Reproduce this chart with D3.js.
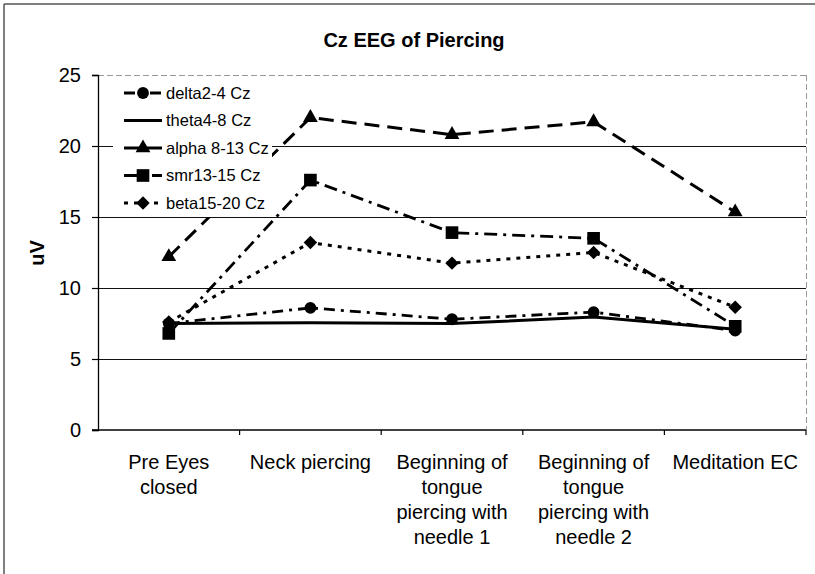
<!DOCTYPE html>
<html><head><meta charset="utf-8">
<script src="https://cdn.jsdelivr.net/npm/d3@7"></script>
<style>body{margin:0;background:#fff}svg{display:block}text{font-family:Arial,"Liberation Sans",sans-serif;fill:#000}</style>
</head><body>
<script>
const categories = [["Pre Eyes","closed"],["Neck piercing"],["Beginning of","tongue","piercing with","needle 1"],["Beginning of","tongue","piercing with","needle 2"],["Meditation EC"]];
const seriesNames = ["delta2-4 Cz","theta4-8 Cz","alpha 8-13 Cz","smr13-15 Cz","beta15-20 Cz"];
const delta = [7.5, 8.6, 7.8, 8.3, 7.0];
const theta = [7.5, 7.55, 7.5, 7.95, 7.1];
const alpha = [12.2, 22.0, 20.8, 21.7, 15.35];
const smr = [6.8, 17.6, 13.9, 13.5, 7.3];
const beta = [7.6, 13.2, 11.75, 12.5, 8.65];
const yTicks = [0,5,10,15,20,25];
const title = "Cz EEG of Piercing";
const yLabel = "uV";

const W=815,H=574;
const svg=d3.select("body").append("svg").attr("width",W).attr("height",H);
const L=98,R=806,T=75,B=430;
const keys=categories.map((c,i)=>i);
const x=d3.scaleBand().domain(keys).range([L,R]).padding(0);
const y=d3.scaleLinear().domain([0,25]).range([B,T]);

// outer border (left/top visible)
svg.append("line").attr("x1",4).attr("x2",4).attr("y1",4).attr("y2",H).attr("stroke","#555").attr("stroke-width",1.5);
svg.append("line").attr("x1",4).attr("x2",W).attr("y1",4).attr("y2",4).attr("stroke","#555").attr("stroke-width",1.5);

// plot border top/right
svg.append("line").attr("x1",L).attr("x2",R).attr("y1",y(25)+0.5).attr("y2",y(25)+0.5).attr("stroke","#999").attr("stroke-dasharray","6,3");
svg.append("line").attr("x1",R+0.5).attr("x2",R+0.5).attr("y1",T).attr("y2",B).attr("stroke","#999").attr("stroke-dasharray","6,3");

// gridlines
svg.append("g").selectAll("line").data(yTicks.filter(t=>t>0&&t<25)).join("line")
 .attr("x1",L).attr("x2",R).attr("y1",d=>Math.round(y(d))+0.5).attr("y2",d=>Math.round(y(d))+0.5).attr("stroke","#111").attr("stroke-width",1);

const series=[
 {name:seriesNames[0],vals:delta,dash:"11,6,3,6",sym:d3.symbolCircle,size:110,w:2.8},
 {name:seriesNames[1],vals:theta,dash:null,sym:null,size:0,w:3},
 {name:seriesNames[2],vals:alpha,dash:"15,8",sym:d3.symbolTriangle,size:95,w:3},
 {name:seriesNames[3],vals:smr,dash:"13,6,3,6",sym:d3.symbolSquare,size:160,w:2.8},
 {name:seriesNames[4],vals:beta,dash:"4,6",sym:d3.symbolSquare,size:90,w:3,rot:45},
];
const cx=i=>x(i)+x.bandwidth()/2;
const line=d3.line().x((d,i)=>cx(i)).y(d=>y(d));
series.forEach(s=>{
 svg.append("path").attr("d",line(s.vals)).attr("fill","none").attr("stroke","#000")
  .attr("stroke-width",s.w).attr("stroke-dasharray",s.dash);
 if(s.sym){
  svg.append("g").selectAll("path").data(s.vals).join("path")
   .attr("d",d3.symbol(s.sym,s.size))
   .attr("transform",(d,i)=>`translate(${cx(i)},${y(d)}) rotate(${s.rot||0})`).attr("fill","#000");
 }
});

// legend
const lg=svg.append("g");
lg.append("rect").attr("x",113).attr("y",79).attr("width",159).attr("height",138).attr("fill","#fff");
series.forEach((s,i)=>{
 const ly=93+i*27.5;
 lg.append("line").attr("x1",124).attr("x2",162).attr("y1",ly).attr("y2",ly).attr("stroke","#000")
  .attr("stroke-width",s.w).attr("stroke-dasharray",s.dash);
 if(s.sym) lg.append("path").attr("d",d3.symbol(s.sym,s.size)).attr("transform",`translate(143,${ly}) rotate(${s.rot||0})`);
 lg.append("text").attr("x",166).attr("y",ly+5.5).style("font-size","16.5px").text(s.name);
});

// y axis
const ya=svg.append("g").attr("transform",`translate(${L},0)`)
 .call(d3.axisLeft(y).tickValues(yTicks).tickSize(6).tickPadding(11).tickFormat(d3.format("d")));
ya.select(".domain").attr("stroke","#000").attr("stroke-width",1.3);
ya.selectAll(".tick line").attr("stroke","#000").attr("stroke-width",1.2);
ya.selectAll("text").style("font-size","20px").attr("font-family","Arial, Liberation Sans, sans-serif");

// x axis
svg.append("line").attr("x1",L-6).attr("x2",R).attr("y1",B).attr("y2",B).attr("stroke","#000").attr("stroke-width",1.5);
const bounds=keys.map(k=>x(k)).concat([x(keys[keys.length-1])+x.bandwidth()]);
svg.append("g").selectAll("line").data(bounds.slice(1)).join("line")
 .attr("x1",d=>d).attr("x2",d=>d).attr("y1",B).attr("y2",B+5).attr("stroke","#000").attr("stroke-width",1.2);
categories.forEach((lines,i)=>{
 const t=svg.append("text").attr("text-anchor","middle").style("font-size","20px");
 lines.forEach((ln,j)=>t.append("tspan").attr("x",cx(i)).attr("y",469+j*25).text(ln));
});

// title and y label
svg.append("text").attr("x",414).attr("y",47).attr("text-anchor","middle").style("font-size","20px").style("font-weight","bold").text(title);
svg.append("text").attr("transform","translate(44,253) rotate(-90)").attr("text-anchor","middle").style("font-size","20px").style("font-weight","bold").text(yLabel);
</script>
</body></html>
